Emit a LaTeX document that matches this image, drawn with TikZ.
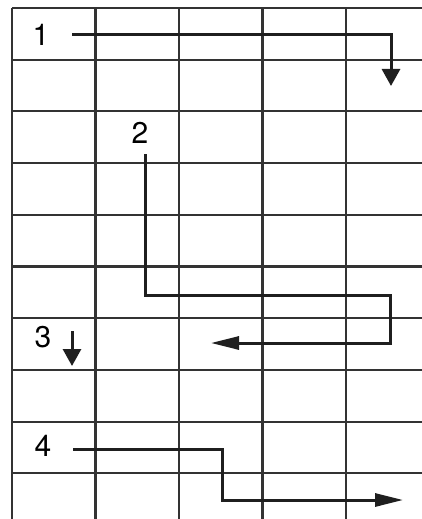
\documentclass[tikz,border=0pt]{standalone}
\usepackage{fontspec}
\setmainfont{TeX Gyre Heros}
\usetikzlibrary{arrows.meta}
\tikzset{
  gridline/.style={line width=1.1pt,black!80},
  route/.style={line width=1.5pt,black!88,line join=miter},
  shorttip/.style={-{Triangle[length=8.5pt,width=9pt]}},
  longtip/.style={-{Triangle[length=14pt,width=6.5pt]}},
  numlbl/.style={font=\fontsize{15}{17}\selectfont,inner sep=0pt},
}

\begin{document}
\begin{tikzpicture}[x=0.5pt,y=-0.5pt]
  \useasboundingbox (0,0) rectangle (422,519);
  % grid
  \foreach \gx in {12,95.5,179,262.5,346}
    \draw[gridline] (\gx,8) -- (\gx,519);
  \foreach \gy in {8,59.7,111.4,163.1,214.8,266.5,318.2,369.9,421.6,473.3}
    \draw[gridline] (12,\gy) -- (422,\gy);
  % numbers
  \node[numlbl] (lab1) at (41,35) {1};
  \node[numlbl] (lab2) at (140,133) {2};
  \node[numlbl] (lab3) at (43,337) {3};
  \node[numlbl] (lab4) at (43,446) {4};
  % routes
  \coordinate (r1a) at (72,35);
  \coordinate (r1b) at (391,86);
  \draw[route,shorttip] (r1a) -| (r1b);
  \coordinate (r2a) at (145,154);
  \coordinate (r2b) at (390,295);
  \coordinate (r2c) at (211,343);
  \draw[route,longtip] (r2a) |- (r2b) |- (r2c);
  \coordinate (r3a) at (72,331);
  \coordinate (r3b) at (72,366);
  \draw[route,shorttip] (r3a) -- (r3b);
  \coordinate (r4a) at (73,449);
  \coordinate (r4b) at (222,500);
  \coordinate (r4c) at (403,500);
  \draw[route,longtip] (r4a) -| (r4b) -- (r4c);
\end{tikzpicture}
\end{document}
